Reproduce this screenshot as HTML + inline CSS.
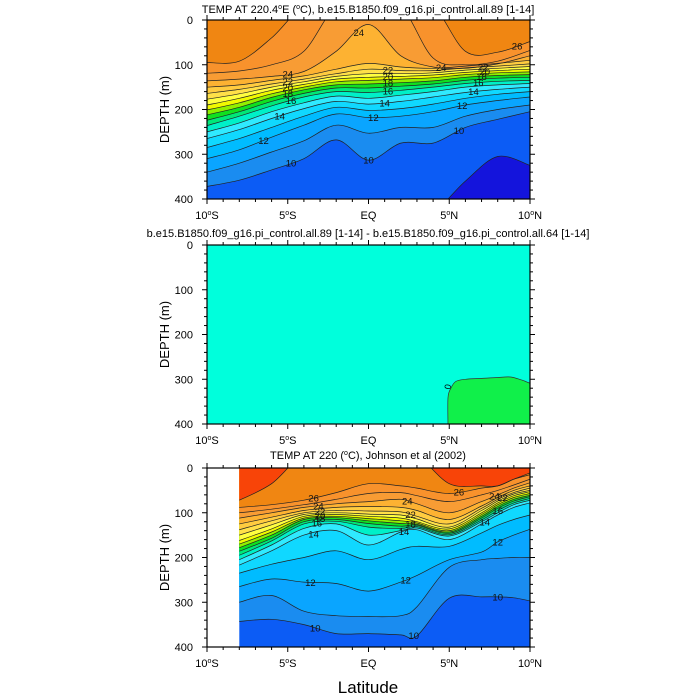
<!DOCTYPE html>
<html><head><meta charset="utf-8">
<style>
body{margin:0;background:#fff;}
svg{display:block;font-family:"Liberation Sans",sans-serif;}
</style></head>
<body>
<svg id="chart" width="700" height="700" viewBox="0 0 700 700" xmlns="http://www.w3.org/2000/svg">
<text x="368" y="693" font-size="17" text-anchor="middle">Latitude</text>
</svg>
<script>
// ---------- data ----------
const lats1 = [-10,-8,-6,-4,-2,0,2,4,6,8,10];
const levels1 = [9,10,11,12,13,14,15,16,17,18,19,20,21,22,23,24,25,26];
const iso1_9  = [450,450,450,450,450,450,450,430,360,305,325];
const iso1_10 = [372,358,335,310,268,313,275,275,240,222,205];
const iso1_11 = [340,320,295,270,235,253,240,240,215,200,190];
const iso1_12 = [310,290,262,235,210,218,215,205,190,180,172];
const iso1_13 = [285,265,240,215,195,202,198,188,175,166,160];
const iso1_14 = [265,245,220,198,182,188,182,172,162,155,150];
const iso1_15 = [250,230,205,185,170,175,168,160,150,145,142];
const iso1_16 = [236,215,192,172,160,162,157,150,142,137,135];
const iso1_17 = [224,205,182,164,152,152,148,143,135,130,128];
const iso1_18 = [212,195,173,156,145,143,140,136,128,124,122];
const iso1_19 = [201,185,165,150,138,135,132,129,122,118,116];
const iso1_20 = [190,175,157,144,132,128,126,123,117,113,110];
const iso1_21 = [177,165,150,138,126,120,120,118,112,108,104];
const iso1_22 = [164,155,143,132,120,110,113,113,107,103,98];
const iso1_23 = [150,145,135,125,110,97,105,108,103,97,90];
const iso1_24 = [136,132,126,115,70,10,80,105,108,98,80];
const iso1_25 = [119,114,100,70,-30,-30,-30,85,100,92,68];
const iso1_26 = [95,92,40,-30,-30,-30,-30,-30,70,72,48];
const iso1 = [iso1_9,iso1_10,iso1_11,iso1_12,iso1_13,iso1_14,iso1_15,iso1_16,iso1_17,iso1_18,iso1_19,iso1_20,iso1_21,iso1_22,iso1_23,iso1_24,iso1_25,iso1_26];
const labels1T   = [24,26,24,24,22,20,18,16,14,12,10,10,10,12,14,16,18,20,22,22,20,18,16,14,12];
const labels1Lat = [-0.6,9.2,4.5,-5,-5,-5,-5,-4.8,-5.5,-6.5,-4.8,0,5.6,5.8,6.5,6.8,7,7.2,7.1,1.2,1.2,1.2,1.2,1.0,0.3];

const diffLats  = [4.92,4.92,5.1,5.4,6,7,8,8.8,9.5,10];
const diffDepth = [400,341,320,305,300,298,296,295,302,309];

const lats3 = [-8,-6,-4,-2,0,2,3,5,7,8,9,10];
const levels3 = [10,11,12,13,14,15,16,17,18,19,20,21,22,23,24,25,26,27];
const iso3_10 = [343,338,350,370,370,373,375,291,288,288,290,297];
const iso3_11 = [300,285,320,330,332,330,310,222,205,202,200,200];
const iso3_12 = [265,248,255,258,275,255,240,205,188,165,150,137];
const iso3_13 = [235,215,200,185,205,182,175,175,145,128,115,105];
const iso3_14 = [217,185,150,140,172,143,138,160,125,105,88,78];
const iso3_15 = [205,172,135,125,150,140,134,152,120,100,82,72];
const iso3_16 = [195,163,125,119,132,135,131,149,116,95,78,68];
const iso3_17 = [186,157,120,115,124,130,128,146,112,90,74,64];
const iso3_18 = [178,150,115,111,118,124,126,143,108,86,70,61];
const iso3_19 = [170,143,112,108,113,118,123,140,104,82,66,57];
const iso3_20 = [162,136,108,104,108,112,120,136,100,78,62,53];
const iso3_21 = [150,127,104,100,103,105,114,132,95,74,58,50];
const iso3_22 = [138,118,100,95,96,98,108,125,90,70,55,45];
const iso3_23 = [125,110,95,88,86,88,95,115,85,66,50,40];
const iso3_24 = [112,100,88,80,75,70,80,100,75,60,45,33];
const iso3_25 = [100,92,82,70,57,55,62,75,60,50,38,25];
const iso3_26 = [88,82,72,55,35,40,45,57,45,40,25,15];
const iso3_27 = [72,35,-30,-30,-30,-30,-30,35,40,40,25,11];
const iso3 = [iso3_10,iso3_11,iso3_12,iso3_13,iso3_14,iso3_15,iso3_16,iso3_17,iso3_18,iso3_19,iso3_20,iso3_21,iso3_22,iso3_23,iso3_24,iso3_25,iso3_26,iso3_27];
const labels3T   = [26,24,22,20,18,16,14,12,12,10,10,24,22,18,14,26,24,22,16,14,12,10];
const labels3Lat = [-3.4,-3.1,-3.0,-3.0,-3.0,-3.2,-3.4,-3.6,2.3,-3.3,2.8,2.4,2.6,2.6,2.2,5.6,7.8,8.3,8.0,7.2,8.0,8.0];

const xTickVals = [-10,-5,0,5,10];
const xTickText = ["10°S","5°S","EQ","5°N","10°N"];
const yTickVals = [0,100,200,300,400];

const bandColor = {8:'#1414dc',9:'#0c5cf5',10:'#1a8cf0',11:'#0aa5ff',12:'#00bcff',13:'#10d8ff',14:'#30eaff',15:'#00f0c8',16:'#00e878',17:'#10e020',18:'#90f000',19:'#f0fa00',20:'#ffff40',21:'#ffe048',22:'#ffcc40',23:'#fdb232',24:'#f89c34',25:'#f8922c',26:'#f08612',27:'#f84408'};

// ---------- helpers ----------
const NS = "http://www.w3.org/2000/svg";
const svg = document.getElementById('chart');
const X0 = 207, X1 = 530, H = 179;
function xs(lat){ return X0 + (lat+10)/20*(X1-X0); }
function mk(tag, attrs, parent){ const e=document.createElementNS(NS,tag); for(const k in attrs) e.setAttribute(k,attrs[k]); (parent||svg).appendChild(e); return e; }
function smooth(pts){
  let d = `M${pts[0][0]},${pts[0][1]}`;
  for(let i=0;i<pts.length-1;i++){
    const p0=pts[Math.max(0,i-1)], p1=pts[i], p2=pts[i+1], p3=pts[Math.min(pts.length-1,i+2)];
    const c1=[p1[0]+(p2[0]-p0[0])/6, p1[1]+(p2[1]-p0[1])/6];
    const c2=[p2[0]-(p3[0]-p1[0])/6, p2[1]-(p3[1]-p1[1])/6];
    d += ` C${c1[0].toFixed(1)},${c1[1].toFixed(1)} ${c2[0].toFixed(1)},${c2[1].toFixed(1)} ${p2[0].toFixed(1)},${p2[1].toFixed(1)}`;
  }
  return d;
}
function interp(lats, vals, lat){
  for(let i=0;i<lats.length-1;i++){ if(lat>=lats[i]&&lat<=lats[i+1]){ const t=(lat-lats[i])/(lats[i+1]-lats[i]); return vals[i]+t*(vals[i+1]-vals[i]); } }
  return vals[vals.length-1];
}
function degText(t, s){
  const segs = s.split('°');
  segs.forEach((seg,i)=>{
    const a = mk('tspan', i>0 ? {dy:4} : {}, t); a.textContent = seg;
    if(i<segs.length-1){ const b = mk('tspan',{dy:-4,'font-size':7},t); b.textContent='o'; }
  });
}

function panel(id, top, title, titleY){
  const g = mk('g',{}); 
  
  
  const cp = mk('clipPath',{id:id+'-clip'}, g);
  mk('rect',{x:X0,y:top,width:X1-X0,height:H}, cp);
  const t = mk('text',{x:368,y:titleY,'font-size':11,'text-anchor':'middle'}, g);
  
  
  degText(t, title);
  return g;
}

function axes(g, id, top){
  const ys = d => top + d/400*H;
  const ax = mk('g',{stroke:'#000','stroke-width':1}, g);
  
  
  for(let lat=-10; lat<=10; lat++){
    const major = lat%5===0, L = major?5:3, x=xs(lat);
    mk('line',{x1:x,x2:x,y1:top,y2:top-L},ax);
    mk('line',{x1:x,x2:x,y1:top+H,y2:top+H+L},ax);
  }
  for(let d=0; d<=400; d+=20){
    const major = d%100===0, L = major?5:3, y=ys(d);
    mk('line',{x1:X0,x2:X0-L,y1:y,y2:y},ax);
    mk('line',{x1:X1,x2:X1+L,y1:y,y2:y},ax);
  }
  const fr = mk('rect',{x:X0,y:top,width:X1-X0,height:H,fill:'none',stroke:'#000','stroke-width':1.2}, g);
  
  
  xTickVals.forEach((v,i)=>{
    const t = mk('text',{x:xs(v),y:top+H+20,'font-size':11,'text-anchor':'middle'}, g);
    
    
    degText(t, xTickText[i]);
  });
  yTickVals.forEach(v=>{
    const t = mk('text',{x:193,y:ys(v)+4,'font-size':11,'text-anchor':'end'}, g);
    
    
    t.textContent = v;
  });
  const yt = mk('text',{x:0,y:0,'font-size':13,'text-anchor':'middle',transform:`translate(169,${top+H/2}) rotate(-90)`}, g);
  
  
  yt.textContent = 'DEPTH (m)';
}

function contourPanel(g, id, top, lats, levels, isos, baseColor, labT, labLat, xLeft){
  const ys = d => top + d/400*H;
  const fills = mk('g',{'clip-path':`url(#${id}-clip)`}, g);
  
  
  const bg = mk('rect',{x:xs(xLeft),y:top,width:X1-xs(xLeft),height:H,fill:baseColor}, fills);
  
  
  const lines = [];
  levels.forEach((T,k)=>{
    const pts = lats.map((la,i)=>[xs(la), ys(isos[k][i])]);
    const d = smooth(pts);
    const poly = mk('path',{d: d + ` L${pts[pts.length-1][0]},${top-20} L${pts[0][0]},${top-20} Z`, fill: bandColor[T]}, fills);
    
    
    lines.push(d);
  });
  const lg = mk('g',{'clip-path':`url(#${id}-clip)`,fill:'none',stroke:'#222','stroke-width':0.7}, g);
  
  
  levels.forEach((T,k)=>{
    const p = mk('path',{d:lines[k]}, lg);
    
    
  });
  labT.forEach((T,i)=>{
    const k = levels.indexOf(T); if(k<0) return;
    const d = Math.max(4, interp(lats, isos[k], labLat[i]));
    const t = mk('text',{x:xs(labLat[i]),y:ys(d)+3.5,'font-size':9.5,'text-anchor':'middle',fill:'#111'}, g);
    
    
    t.textContent = T;
  });
}

// ---------- panel 1 ----------
const g1 = panel('model-panel', 20, 'TEMP AT 220.4°E (°C), b.e15.B1850.f09_g16.pi_control.all.89 [1-14]', 13);
contourPanel(g1,'model-panel',20,lats1,levels1,iso1,bandColor[8],labels1T,labels1Lat,-10);
axes(g1,'model-panel',20);

// ---------- panel 2 ----------
const g2 = panel('difference-panel', 245, 'b.e15.B1850.f09_g16.pi_control.all.89 [1-14] - b.e15.B1850.f09_g16.pi_control.all.64 [1-14]', 237);
(function(){
  const top=245, ys = d => top + d/400*H;
  const r = mk('rect',{x:X0,y:top,width:X1-X0,height:H,fill:'#00ffdc'}, g2);
  
  
  const pts = diffLats.map((la,i)=>[xs(la), ys(diffDepth[i])]);
  const p = mk('path',{d: smooth(pts)+` L${X1},${top+H} L${xs(diffLats[0])},${top+H} Z`, fill:'#10f04a', stroke:'#333','stroke-width':0.7,'clip-path':'url(#difference-panel-clip)'}, g2);
  
  
  const t = mk('text',{x:0,y:0,'font-size':9,'text-anchor':'middle',transform:`translate(${xs(5.1)},${ys(318)}) rotate(-80)`}, g2);
  
  
  t.textContent='0';
})();
axes(g2,'difference-panel',245);

// ---------- panel 3 ----------
const g3 = panel('observation-panel', 468, 'TEMP AT 220 (°C), Johnson et al (2002)', 459);
contourPanel(g3,'observation-panel',468,lats3,levels3,iso3,bandColor[9],labels3T,labels3Lat,-8);
axes(g3,'observation-panel',468);
</script>
</body></html>
